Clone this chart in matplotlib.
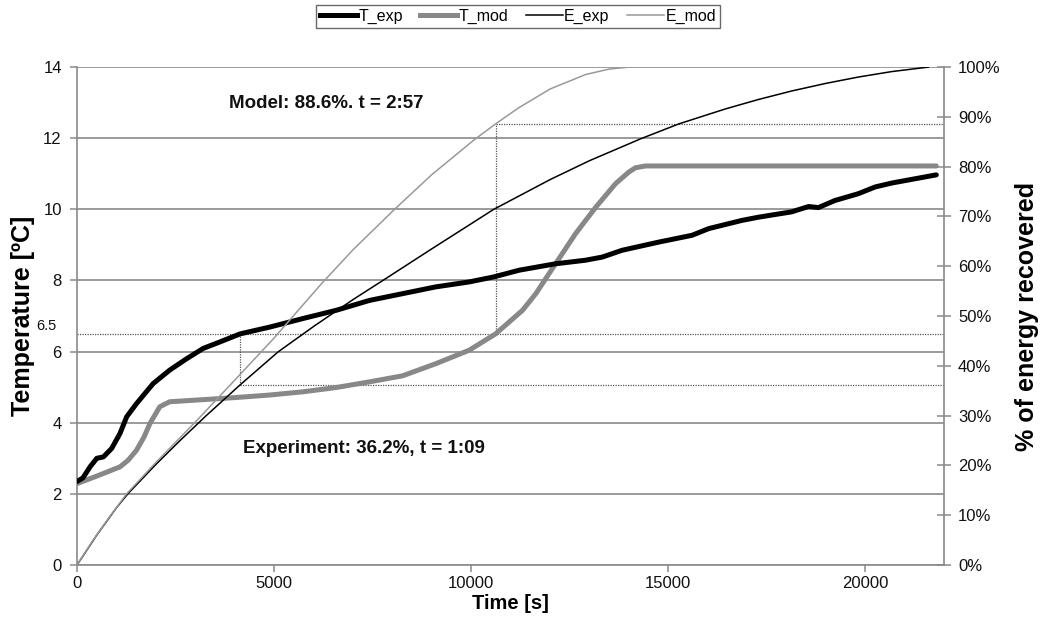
import matplotlib
matplotlib.use("Agg")
import matplotlib.pyplot as plt
from matplotlib.lines import Line2D

plt.rcParams['font.family'] = ['Liberation Sans', 'DejaVu Sans']

# ---------------- data ----------------
t_T_exp = [0, 150, 330, 500, 670, 880, 1090, 1260, 1510, 1930, 2350, 2780, 3200, 3620,
           4140, 4890, 5730, 6570, 7420, 8260, 9100, 9950, 10570, 11220, 12140, 12900,
           13330, 13830, 14760, 15600, 16030, 16870, 17290, 18130, 18560, 18810, 19230,
           19820, 20250, 20670, 21800]
T_exp = [2.35, 2.45, 2.76, 3.0, 3.04, 3.28, 3.7, 4.17, 4.54, 5.1, 5.48, 5.8, 6.09, 6.27,
         6.5, 6.69, 6.93, 7.16, 7.44, 7.63, 7.82, 7.96, 8.1, 8.29, 8.47, 8.57,
         8.66, 8.85, 9.08, 9.27, 9.46, 9.69, 9.78, 9.93, 10.08, 10.05, 10.25,
         10.44, 10.63, 10.74, 10.97]

t_T_mod = [0, 500, 1090, 1300, 1510, 1700, 1850, 2100, 2350, 3200, 4040, 4890, 5730,
           6570, 7420, 8260, 9100, 9950, 10620, 10960, 11300, 11640, 12140, 12650,
           13160, 13660, 14000, 14170, 14420, 21800]
T_mod = [2.29, 2.5, 2.76, 2.95, 3.23, 3.6, 3.98, 4.45, 4.59, 4.65, 4.71, 4.78, 4.87,
         4.99, 5.15, 5.32, 5.66, 6.04, 6.5, 6.83, 7.16, 7.63, 8.47, 9.32,
         10.06, 10.72, 11.05, 11.17, 11.22, 11.22]

t_E_exp = [0, 500, 1000, 1290, 2000, 2600, 3250, 4140, 5100, 6000, 7000, 7750, 9000,
           10565, 12000, 13000, 14300, 15270, 16450, 17290, 18130, 18980, 19820, 20670, 21600]
E_exp = [0, 6.0, 11.5, 14.3, 20.2, 24.9, 29.8, 36.2, 42.8, 47.9, 53.3, 57.1, 63.5,
         71.4, 77.4, 81.2, 85.6, 88.6, 91.6, 93.5, 95.2, 96.7, 98.0, 99.1, 100]

t_E_mod = [0, 400, 800, 1258, 2000, 3072, 4140, 5000, 6213, 7000, 8051, 9000, 10076,
           10620, 11200, 12000, 12900, 13500, 14000]
E_mod = [0, 4.9, 9.4, 14.3, 20.6, 29.3, 38.3, 45.6, 56.6, 63.3, 71.4, 78.4, 85.4,
         88.6, 91.8, 95.6, 98.5, 99.6, 100]

# reference markers
T_ref = 6.5
t_exp_ref, E_exp_ref = 4140, 36.2
t_mod_ref, E_mod_ref = 10620, 88.6

x_ticks = [0, 5000, 10000, 15000, 20000]
y_ticks = [0, 2, 4, 6, 8, 10, 12, 14]
y2_ticks = list(range(0, 101, 10))

# ---------------- figure ----------------
fig = plt.figure(figsize=(10.41, 6.33), dpi=100)
ax = fig.add_axes([0.074, 0.1074, 0.833, 0.7866])
ax2 = ax.twinx()

grid_c = '#8a8a8a'
ax.set_xlim(0, 22000)
ax.set_ylim(0, 14)
ax2.set_ylim(0, 100)
ax.set_xticks(x_ticks)
ax.set_yticks(y_ticks)
ax2.set_yticks(y2_ticks)
ax2.set_yticklabels([f"{v}%" for v in y2_ticks])

ax.yaxis.grid(True, color=grid_c, lw=1.2)
ax.set_axisbelow(True)

for a in (ax, ax2):
    a.spines['top'].set_visible(False)
    for s in ('left', 'right', 'bottom'):
        a.spines[s].set_color(grid_c)
        a.spines[s].set_linewidth(1.2)
ax.spines['right'].set_visible(False)
ax2.spines['left'].set_visible(False)
ax2.spines['bottom'].set_visible(False)

ax.tick_params(axis='both', colors=grid_c, labelcolor='#111111', labelsize=12,
               length=5, width=1.1, direction='out')
ax.tick_params(axis='y', pad=6)
ax.tick_params(axis='x', pad=3)
ax2.tick_params(axis='y', colors=grid_c, labelcolor='#111111', labelsize=12,
                length=10, width=1.1, direction='inout', pad=5)

# dotted reference lines
dot = dict(color='#555555', lw=0.9, ls=(0, (1, 1)), zorder=1.5)
ax.plot([0, 22000], [T_ref, T_ref], **dot)
ax.plot([t_exp_ref, t_exp_ref], [E_exp_ref / 100 * 14, T_ref], **dot)
ax.plot([t_exp_ref, 22000], [E_exp_ref / 100 * 14] * 2, **dot)
ax.plot([t_mod_ref, t_mod_ref], [T_ref, E_mod_ref / 100 * 14], **dot)
ax.plot([t_mod_ref, 22000], [E_mod_ref / 100 * 14] * 2, **dot)

# curves
c_Texp, c_Tmod, c_Eexp, c_Emod = '#000000', '#888888', '#000000', '#999999'
ax.plot(t_T_exp, T_exp, color=c_Texp, lw=3.6, solid_capstyle='round',
        solid_joinstyle='round', zorder=3)
ax.plot(t_T_mod, T_mod, color=c_Tmod, lw=3.6, solid_capstyle='round',
        solid_joinstyle='round', zorder=2.5)
ax2.plot(t_E_exp, E_exp, color=c_Eexp, lw=1.1, zorder=3)
ax2.plot(t_E_mod, E_mod, color=c_Emod, lw=1.1, zorder=3)

# annotations
ax.text(3848, 12.98, "Model: 88.6%. t = 2:57", fontsize=13.5, fontweight='bold',
        ha='left', va='center', color='#111111')
ax.text(4200, 3.29, "Experiment: 36.2%, t = 1:09", fontsize=13.5, fontweight='bold',
        ha='left', va='center', color='#111111')
ax.annotate("6.5", xy=(0, T_ref), xycoords=('axes fraction', 'data'),
            xytext=(-21, 8), textcoords='offset pixels', ha='right', va='center',
            fontsize=10.5, color='#111111')

# axis labels
ax.set_xlabel("Time [s]", fontsize=14.5, fontweight='bold', labelpad=2)
ax.set_ylabel("Temperature [ºC]", fontsize=18, fontweight='bold', labelpad=6)
ax2.set_ylabel("% of energy recovered", fontsize=18, fontweight='bold', labelpad=10)

# legend
handles = [Line2D([], [], color=c_Texp, lw=3.6),
           Line2D([], [], color=c_Tmod, lw=3.6),
           Line2D([], [], color=c_Eexp, lw=1.1),
           Line2D([], [], color=c_Emod, lw=1.1)]
leg = fig.legend(handles, ["T_exp", "T_mod", "E_exp", "E_mod"], loc='center',
                 bbox_to_anchor=(0.4976, 0.974), ncol=4, fontsize=11.5,
                 handlelength=2.3, handletextpad=0.1, columnspacing=1.1,
                 frameon=True, fancybox=False, edgecolor='#444444',
                 borderpad=0.25, borderaxespad=0)
leg.get_frame().set_linewidth(1.0)

fig.savefig("out.png", dpi=100)
